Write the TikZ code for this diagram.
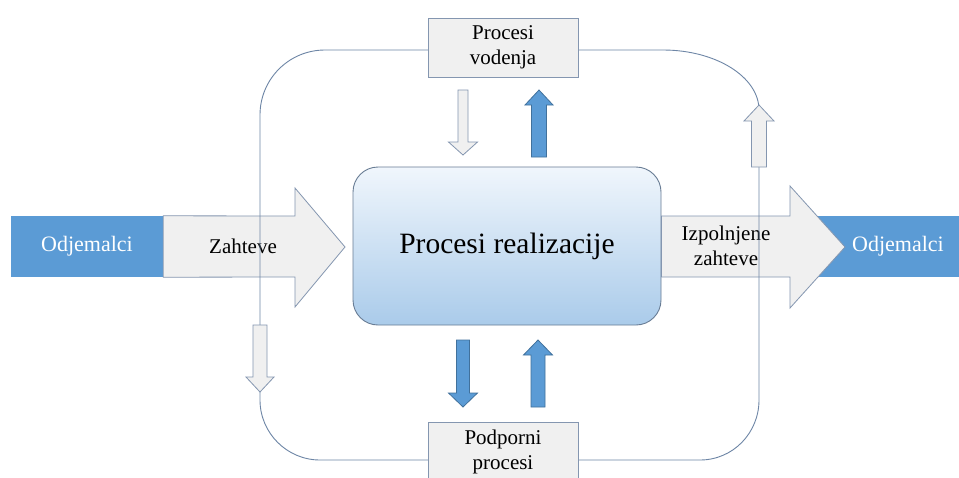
\documentclass[tikz,border=0pt]{standalone}
\usepackage{fontspec}
\setmainfont{Liberation Serif}
\newfontfamily\labelfont{Liberation Serif}
\definecolor{accentblue}{RGB}{91,155,213}
\definecolor{blueedge}{RGB}{65,113,156}
\definecolor{lightgray}{RGB}{240,240,240}
\definecolor{grayedge}{RGB}{132,150,176}
\definecolor{loopcol}{RGB}{110,134,166}
\definecolor{realtop}{RGB}{240,246,252}
\definecolor{realbot}{RGB}{170,203,234}
\definecolor{realedge}{RGB}{104,124,148}
% block arrow: style, x of axis, y of tail, y of head base, y of tip, half shaft, half head
\newcommand{\fatarrow}[7]{%
  \draw[#1] (#2-#6,#3) -- (#2-#6,#4) -- (#2-#7,#4) -- (#2,#5)
    -- (#2+#7,#4) -- (#2+#6,#4) -- (#2+#6,#3) -- cycle;}
\begin{document}
\begin{tikzpicture}[x=1pt,y=-1pt,
  txt/.style={font=\labelfont\fontsize{21}{25}\selectfont, align=center, inner sep=0pt},
  bluetxt/.style={font=\labelfont\fontsize{22}{26}\selectfont, text=white, inner sep=0pt},
  bluebox/.style={fill=accentblue, draw=none, inner sep=0pt},
  graybox/.style={fill=lightgray, draw=grayedge, line width=0.8pt,
    minimum width=150pt, minimum height=59pt, inner sep=0pt,
    font=\labelfont\fontsize{21}{25}\selectfont, align=center},
  bigarrow/.style={fill=lightgray, draw=grayedge, line width=0.8pt, line join=miter},
  smallgray/.style={fill=lightgray, draw=grayedge, line width=0.8pt},
  smallblue/.style={fill=accentblue, draw=blueedge, line width=0.8pt},
  loopline/.style={draw=loopcol, line width=0.9pt}]
\clip (0,0) rectangle (959,477);
\fill[white] (0,0) rectangle (959,477);

% customers on both sides
\node[bluebox, minimum width=152pt, minimum height=61pt] (odjL) at (87,246.5) {};
\node[bluebox, minimum width=160pt, minimum height=61pt] (odjR) at (880,246.5) {};

% central realisation process
\node[draw=realedge, line width=0.9pt, rounded corners=25pt,
  top color=realtop, bottom color=realbot,
  minimum width=308pt, minimum height=158pt, inner sep=0pt,
  font=\labelfont\fontsize{29.5}{34}\selectfont] (real) at (507,246) {Procesi realizacije};

% requirements in, fulfilled requirements out
\draw[bigarrow] (odjL.north east) -- (295,216) -- (295,188) -- (345,247)
  -- (295,307) -- (295,277) -- (odjL.south east) -- cycle;
\draw[bigarrow] (real.east |- 0,216) -- (790,216) -- (790,186) -- (845,247)
  -- (790,308) -- (790,277) -- (real.east |- 0,277) -- cycle;

\node[bluetxt] (tL) at (87,246) {Odjemalci};
\node[txt] (zah) at (243,246) {Zahteve};
\node[txt] (izp) at (726,246) {Izpolnjene\\zahteve};
\node[bluetxt] (tR) at (898,246) {Odjemalci};

% surrounding loop
\coordinate (lt) at (260,115);
\draw[loopline] (lt) .. controls (260,79) and (289,50) .. (325,50)
  -- (663,50) .. controls (716,50) and (759,77) .. (759,110)
  -- (759,400) .. controls (759,433) and (733,460) .. (700,460)
  -- (320,460) .. controls (287,460) and (260,433) .. (260,400) -- (lt);

% management and support processes
\node[graybox] (vod) at (503,47.5) {Procesi\\vodenja};
\node[graybox] (podp) at (503,451.5) {Podporni\\procesi};

% flows between the processes
\fatarrow{smallgray}{463}{90}{142}{155}{5}{14.5}
\fatarrow{smallblue}{539}{157}{105}{90}{7.5}{14}
\fatarrow{smallgray}{759}{167}{121}{105}{7.5}{15}
\fatarrow{smallgray}{260}{325}{377}{392}{7}{14}
\fatarrow{smallblue}{463}{340}{393}{407}{6.5}{14.5}
\fatarrow{smallblue}{538}{407}{355}{340}{7}{14.5}
\end{tikzpicture}
\end{document}
